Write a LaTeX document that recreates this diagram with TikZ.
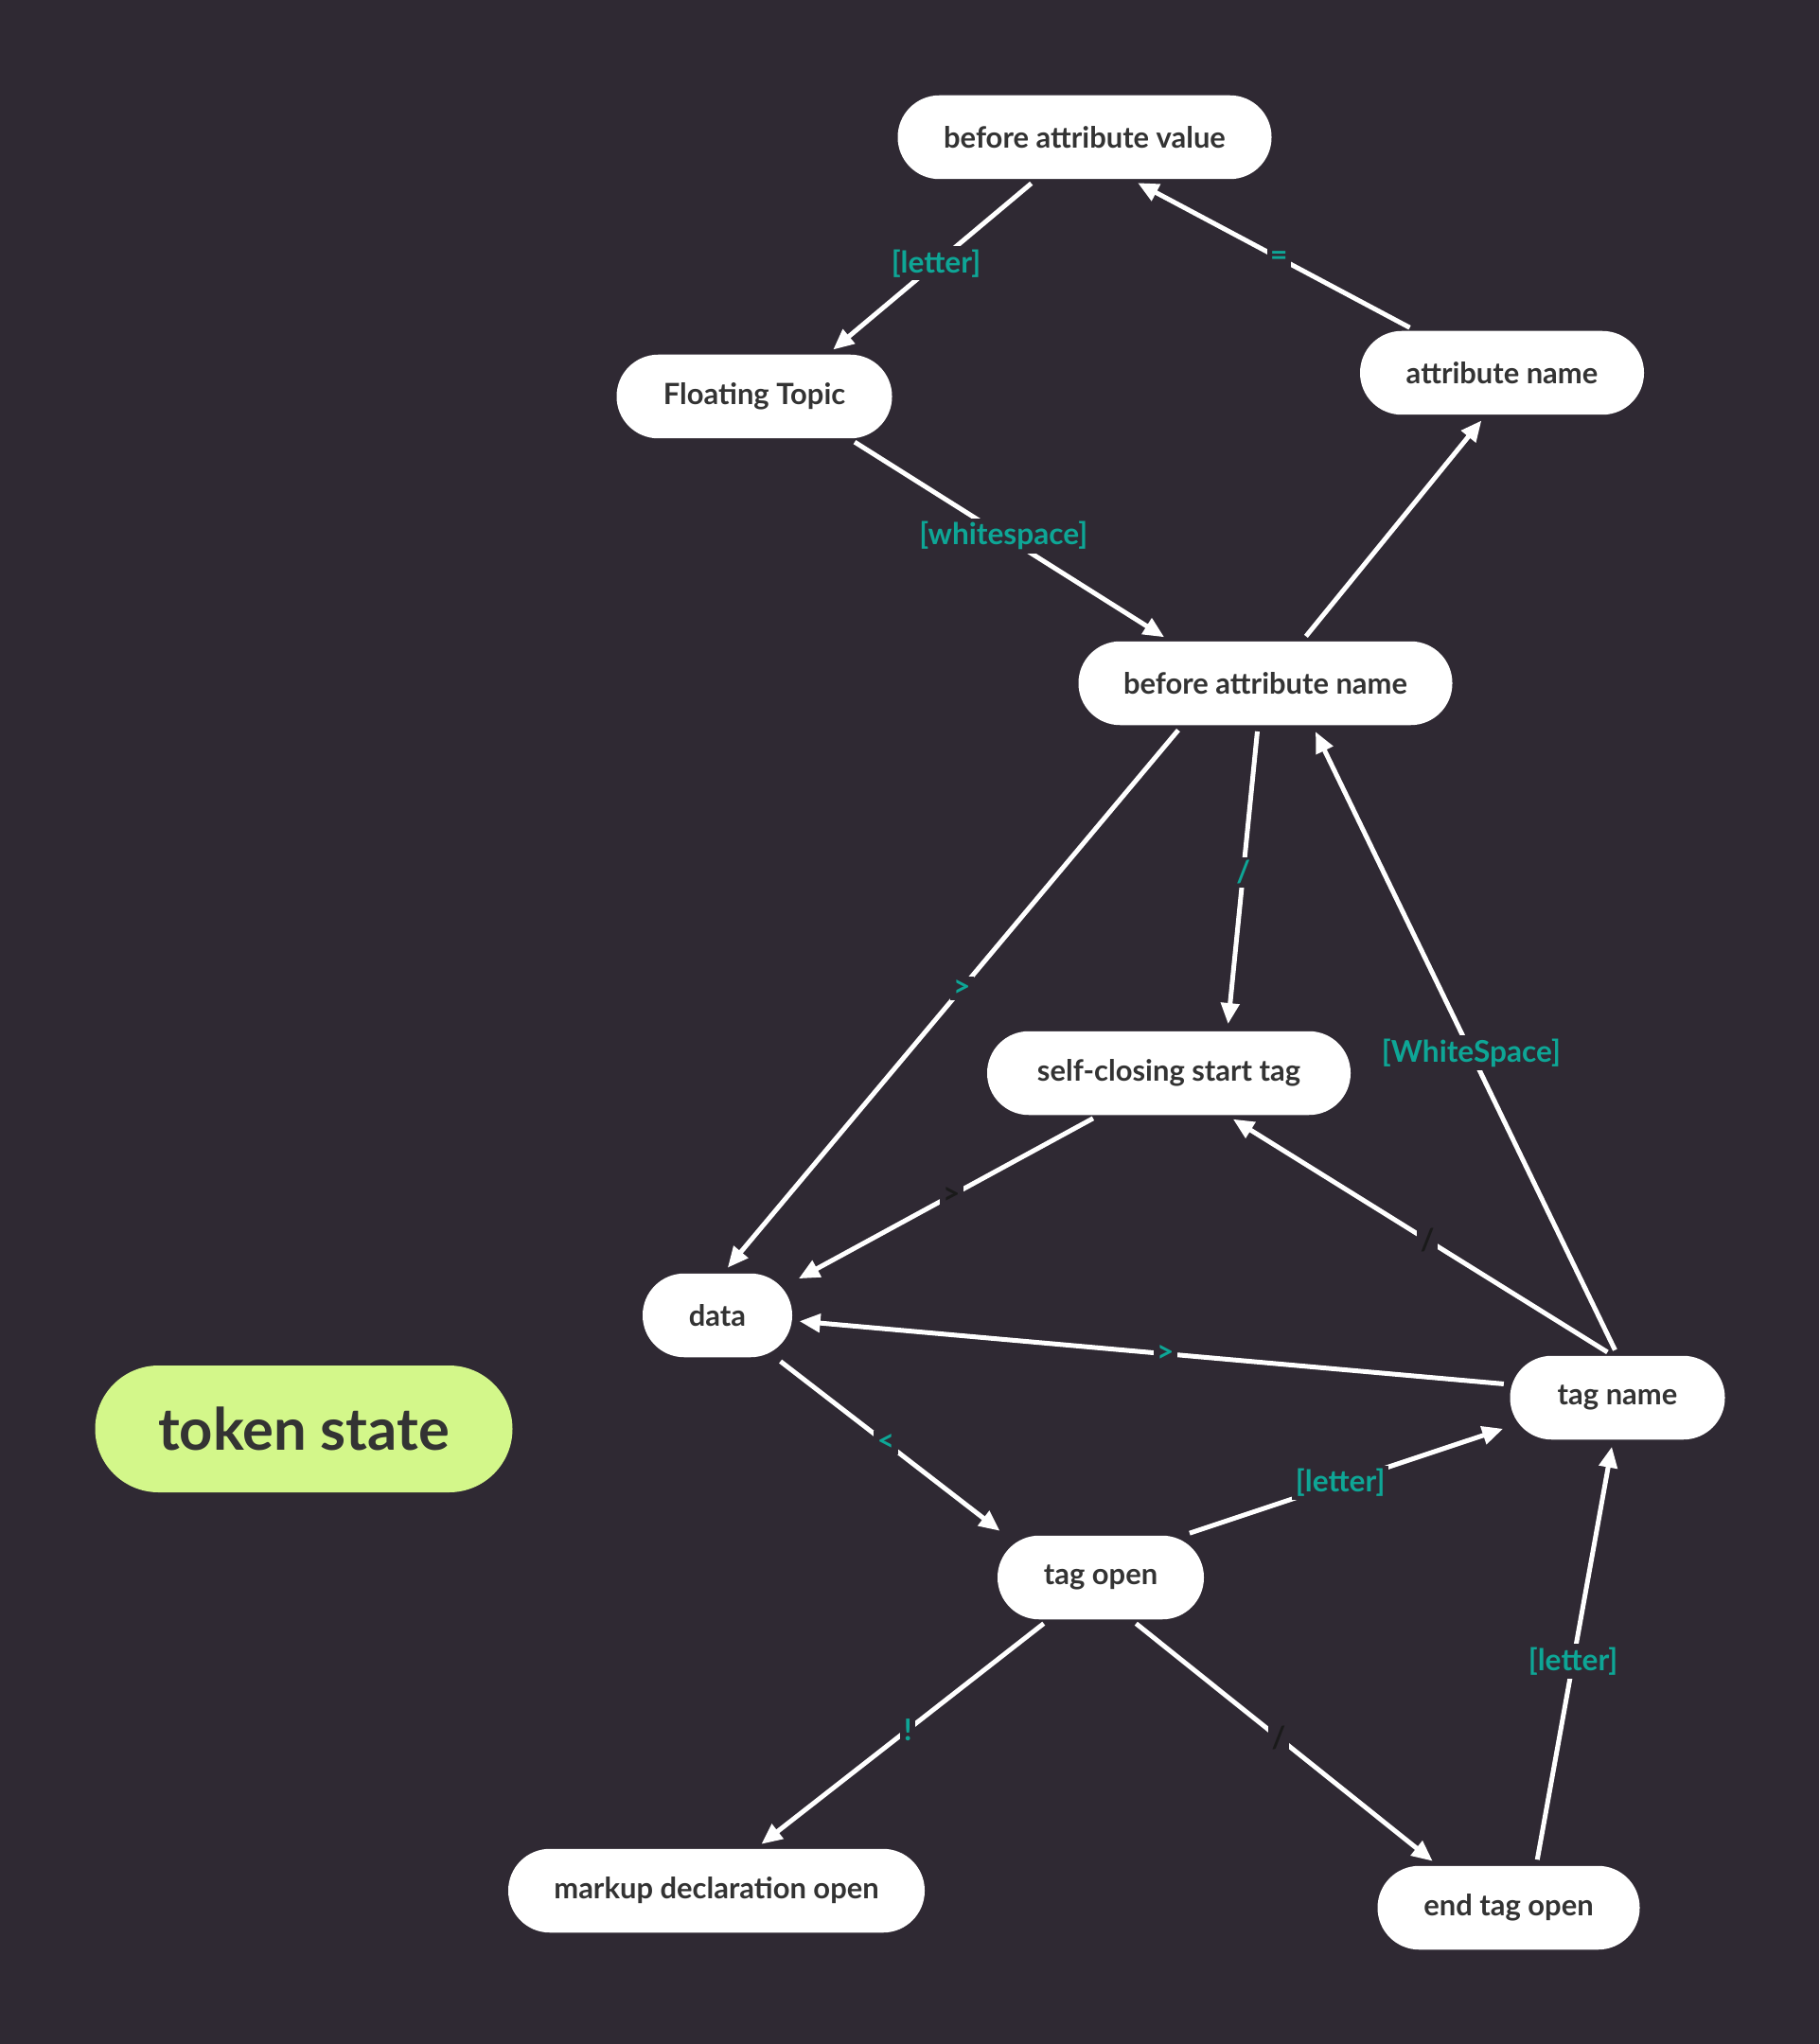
\documentclass[tikz,border=0pt]{standalone}
\usepackage{fontspec}
\setmainfont{Lato}
\usetikzlibrary{arrows.meta}

\definecolor{bgdark}{RGB}{47,41,51}
\definecolor{nodetext}{RGB}{51,51,51}
\definecolor{labelteal}{RGB}{14,166,150}
\definecolor{labeldark}{RGB}{26,26,26}
\definecolor{legendgreen}{RGB}{211,247,138}

\tikzset{
  statebox/.style={fill=white, rounded corners=0.44cm, minimum height=0.885cm, inner sep=0pt,
    text=nodetext, font=\fontsize{8.8}{10.5}\selectfont\bfseries},
  trans/.style={draw=white, line width=0.05cm, -{Triangle[length=0.22cm,width=0.19cm]},
    shorten <=0.06cm, shorten >=0.07cm},
  tlabel/.style={fill=bgdark, inner sep=1pt, pos=0.48, text=labelteal,
    font=\fontsize{9}{11}\selectfont\bfseries},
  dlabel/.style={tlabel, text=labeldark},
}

\begin{document}
\begin{tikzpicture}
\fill[bgdark] (0,0) rectangle (19.22,-21.60);
\useasboundingbox (0,0) rectangle (19.22,-21.60);

% states
\node[statebox, minimum width=3.95cm] (bav) at (11.46,-1.45) {before attribute value};
\node[statebox, minimum width=2.91cm] (ft) at (7.97,-4.19) {Floating Topic};
\node[statebox, minimum width=3.00cm] (an) at (15.87,-3.94) {attribute name};
\node[statebox, minimum width=3.95cm] (ban) at (13.37,-7.22) {before attribute name};
\node[statebox, minimum width=3.84cm] (sc) at (12.35,-11.34) {self-closing start tag};
\node[statebox, minimum width=1.58cm] (data) at (7.58,-13.90) {data};
\node[statebox, minimum width=2.27cm] (tn) at (17.09,-14.77) {tag name};
\node[statebox, minimum width=2.18cm] (to) at (11.63,-16.67) {tag open};
\node[statebox, minimum width=4.40cm] (mdo) at (7.57,-19.98) {markup declaration open};
\node[statebox, minimum width=2.77cm] (eto) at (15.94,-20.16) {end tag open};

% legend
\node[fill=legendgreen, rounded corners=0.67cm, minimum width=4.41cm, minimum height=1.34cm,
  text=nodetext, font=\fontsize{17.5}{21}\selectfont\bfseries] (legend) at (3.21,-15.10) {token state};

% transitions
\draw[trans] (bav.221) -- (ft.30) node[tlabel] {[letter]};
\draw[trans] (an.154) -- (bav.318) node[tlabel] {=};
\draw[trans] (ft.336) -- (ban.156) node[tlabel] {[whitespace]};
\draw[trans] (ban.49) -- (an.249);
\draw[trans] (ban.207) -- (data.82) node[tlabel] {>};
\draw[trans] (ban.260) -- (sc.36) node[tlabel] {/};
\draw[trans] (tn.90) -- (ban.318) node[tlabel] {[WhiteSpace]};
\draw[trans] (sc.211) -- (data.24) node[dlabel] {>};
\draw[trans] (tn.97) -- (sc.324) node[dlabel] {/};
\draw[trans] (tn.173) -- (data.356) node[tlabel] {>};
\draw[trans] (data.324) -- (to.156) node[tlabel] {<};
\draw[trans] (to.27) -- (tn.195) node[tlabel] {[letter]};
\draw[trans] (to.219) -- (mdo.47) node[tlabel] {!};
\draw[trans] (to.306) -- (eto.149) node[dlabel] {/};
\draw[trans] (eto.57) -- (tn.264) node[tlabel] {[letter]};
\end{tikzpicture}
\end{document}
